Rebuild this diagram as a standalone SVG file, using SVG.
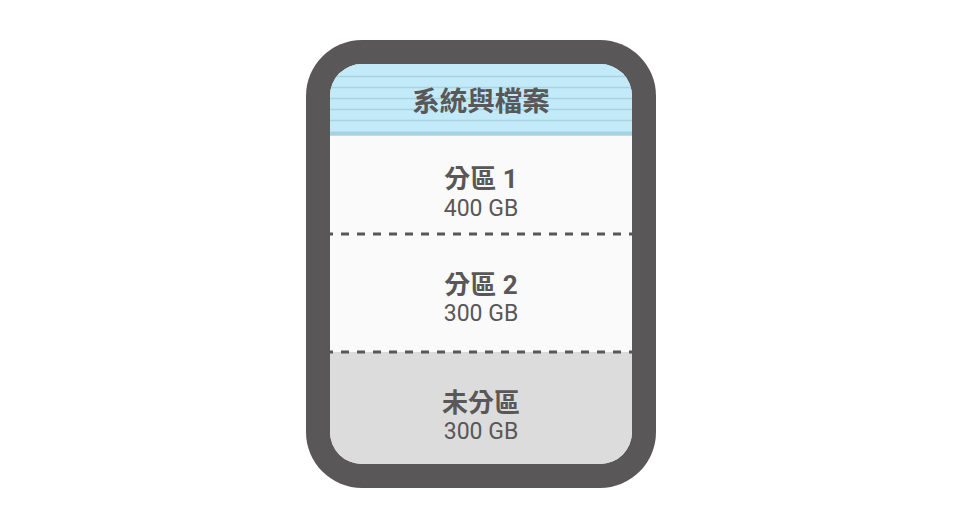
<svg xmlns="http://www.w3.org/2000/svg" width="960" height="528" viewBox="0 0 960 528">
<style>
.t{font-family:Roboto,"Noto Sans CJK TC",sans-serif;fill:#595757;text-anchor:middle}
.b{font-weight:bold;font-size:26px}
.r{font-size:23px}
.dash{stroke:#595757;stroke-width:3;stroke-dasharray:8 8;fill:none}
.stripe{stroke:#a9d3e2;stroke-width:1.5}
</style>
<defs>
<clipPath id="inner"><rect x="330" y="64" width="302" height="400" rx="32"/></clipPath>
</defs>
<rect width="960" height="528" fill="#ffffff"/>
<g id="disk">
<rect x="306" y="40" width="350" height="448" rx="56" fill="#595757"/>
<g clip-path="url(#inner)">
<rect x="330" y="64" width="302" height="400" fill="#fafafa"/>
</g>
</g>
<g id="system" clip-path="url(#inner)">
<rect x="330" y="64" width="302" height="72" fill="#c3eaf9"/>
<line class="stripe" x1="330" y1="76.5" x2="632" y2="76.5"/>
<line class="stripe" x1="330" y1="87.5" x2="632" y2="87.5"/>
<line class="stripe" x1="330" y1="98.5" x2="632" y2="98.5"/>
<line class="stripe" x1="330" y1="109.5" x2="632" y2="109.5"/>
<line class="stripe" x1="330" y1="120.5" x2="632" y2="120.5"/>
<rect x="330" y="131.5" width="302" height="4" fill="#a6d3e3"/>
<text class="t" x="481" y="111" style="font-weight:bold;font-size:27.5px">系統與檔案</text>
</g>
<g id="part1">
<text class="t b" x="481" y="188">分區 1</text>
<text class="t r" x="481" y="216">400 GB</text>
</g>
<g id="part2">
<text class="t b" x="481" y="294">分區 2</text>
<text class="t r" x="481" y="321">300 GB</text>
</g>
<g id="unallocated" clip-path="url(#inner)">
<rect x="330" y="352" width="302" height="112" fill="#dcdcdc"/>
<text class="t b" x="481" y="412">未分區</text>
<text class="t r" x="481" y="439">300 GB</text>
</g>
<g id="connectors">
<line class="dash" x1="330" y1="234" x2="632" y2="234" stroke-dashoffset="5"/>
<line class="dash" x1="330" y1="352" x2="632" y2="352" stroke-dashoffset="5"/>
</g>
</svg>
